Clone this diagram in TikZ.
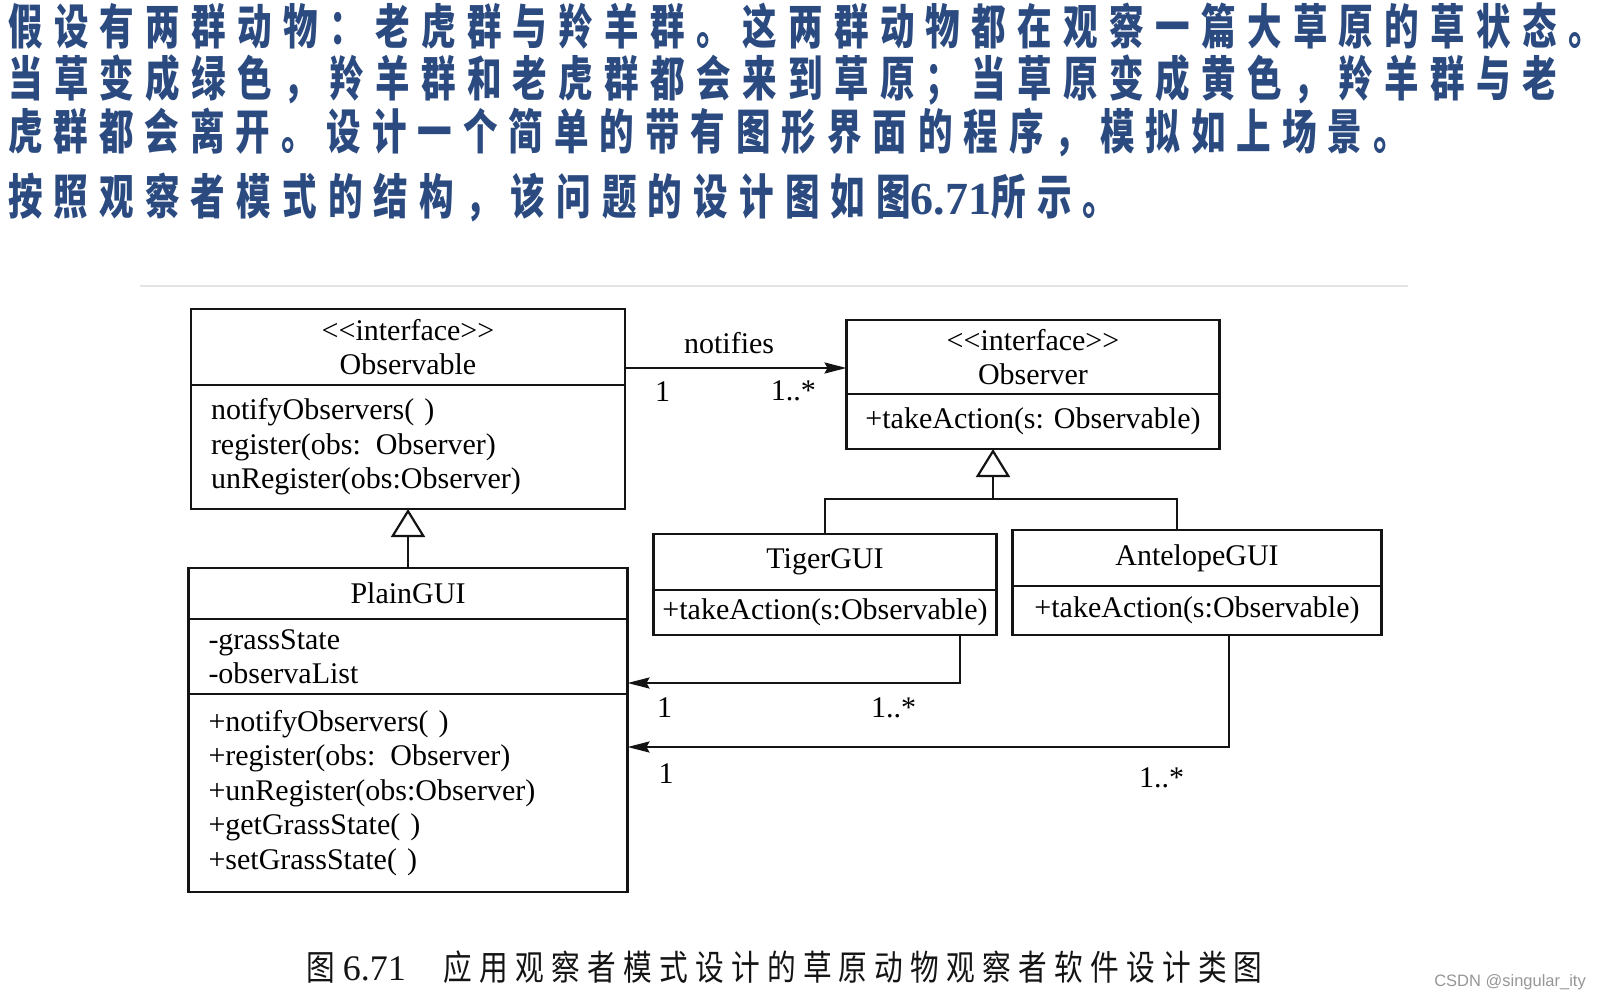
\documentclass[tikz,border=0pt]{standalone}
\usepackage{fontspec}
\setmainfont{Liberation Serif}
\newfontfamily\cjkhead[FakeStretch=0.72]{Noto Sans CJK SC}
\newfontfamily\cjkcap[FakeStretch=0.82, LetterSpace=20.6]{Noto Sans CJK SC}
\newfontfamily\markfont{Liberation Sans}
\usetikzlibrary{arrows.meta, positioning}
\definecolor{NoteBlue}{RGB}{42,74,128}
\definecolor{RuleGrey}{RGB}{228,228,228}
\definecolor{MarkGrey}{RGB}{150,150,150}
\definecolor{InkBlack}{RGB}{20,20,20}

\begin{document}
\begin{tikzpicture}[
    x=1pt,
    y=-1pt,
    font=\fontsize{30}{34.5}\selectfont,
    umlbox/.style={draw=InkBlack, line width=2.6pt, inner ysep=2pt, outer sep=0pt},
    headbox/.style 2 args={umlbox, minimum width=#1, minimum height=#2, align=center, inner xsep=6pt},
    listbox/.style 2 args={umlbox, text width=#1, minimum height=#2, align=left, inner xsep=20pt},
    link/.style={draw=InkBlack, line width=2.2pt},
    assoc/.style={link, -{Stealth[length=22pt, width=11pt, inset=3pt]}},
    inherit/.style={link, -{Triangle[open, length=28pt, width=34pt]}},
    mult/.style={inner sep=0pt, below=#1}
]
\useasboundingbox (0,0) rectangle (1600,1000);

% Intro text
\foreach \n/\y/\ls/\txt in {
  1/26/23.6/{假设有两群动物：老虎群与羚羊群。这两群动物都在观察一篇大草原的草状态。},
  2/80/23.6/{当草变成绿色，羚羊群和老虎群都会来到草原；当草原变成黄色，羚羊群与老},
  3/132/22.8/{虎群都会离开。设计一个简单的带有图形界面的程序，模拟如上场景。},
  4/197/23.2/{按照观察者模式的结构，该问题的设计图如图{\rmfamily\fontsize{46}{46}\selectfont 6.71}所示。}}{
  \node[anchor=west, inner sep=0pt, text=NoteBlue,
        font=\cjkhead\bfseries\fontsize{48}{48}\selectfont\addfontfeature{LetterSpace=\ls}]
    (intro\n) at (8,\y) {\txt};
}

% top rule
\draw[RuleGrey, line width=1.2pt] (140,286) -- (1408,286);

% Observable interface
\node[headbox={434pt}{76pt}, anchor=north] (obsvbl-head) at (408,309)
  {<{}<interface>{}>\\Observable};
\node[listbox={394pt}{124pt}, below=0pt of obsvbl-head] (obsvbl-ops)
  {notifyObservers( )\\register(obs: Observer)\\unRegister(obs:Observer)};

% Observer interface
\node[headbox={373pt}{74pt}, anchor=north] (obsvr-head) at (1033,320)
  {<{}<interface>{}>\\Observer};
\node[headbox={373pt}{55pt}, below=0pt of obsvr-head] (obsvr-ops)
  {+takeAction(s: Observable)};

% TigerGUI
\node[headbox={343pt}{56pt}, anchor=north] (tiger-head) at (825,534) {TigerGUI};
\node[headbox={343pt}{45pt}, below=0pt of tiger-head] (tiger-ops)
  {+takeAction(s:Observable)};

% AntelopeGUI
\node[headbox={369pt}{56pt}, anchor=north] (antel-head) at (1197,530) {AntelopeGUI};
\node[headbox={369pt}{49pt}, below=0pt of antel-head] (antel-ops)
  {+takeAction(s:Observable)};

% PlainGUI
\node[headbox={439pt}{51pt}, anchor=north] (plain-head) at (408,568) {PlainGUI};
\node[listbox={399pt}{75pt}, below=0pt of plain-head] (plain-attr)
  {-grassState\\-observaList};
\node[listbox={399pt}{198pt}, below=0pt of plain-attr] (plain-ops)
  {+notifyObservers( )\\+register(obs: Observer)\\+unRegister(obs:Observer)\\+getGrassState( )\\+setGrassState( )};

% notifies association
\coordinate (ntf) at ([yshift=-21pt]obsvbl-head.east);
\draw[assoc] (ntf) -- (ntf -| obsvr-head.west)
  node[pos=0.47, above=13pt, inner sep=0pt] (ntf-lab) {notifies}
  node[mult=13pt, pos=0.17] (ntf-one) {1}
  node[mult=12pt, pos=0.76] (ntf-many) {1..*};

% PlainGUI realises Observable
\draw[inherit] (plain-head.north) -- (obsvbl-ops.south);

% TigerGUI and AntelopeGUI realise Observer
\coordinate (gfork) at (993,499);
\draw[link] (tiger-head.north) |- (gfork) -| ([xshift=-20pt]antel-head.north);
\draw[inherit] (gfork) -- (gfork |- obsvr-ops.south);

% GUI associations back to PlainGUI
\draw[assoc] ([xshift=135pt]tiger-ops.south) |- ([yshift=11pt]plain-attr.south east)
  node[mult=14pt, pos=0.6] (tiger-many) {1..*}
  node[mult=14pt, pos=0.944] (tiger-one) {1};
\draw[assoc] ([xshift=32pt]antel-ops.south) |- ([yshift=-53pt]plain-ops.north east)
  node[mult=20pt, pos=0.556] (antel-many) {1..*}
  node[mult=16pt, pos=0.968] (antel-one) {1};

% figure caption
\node[anchor=west, inner sep=0pt, text=InkBlack, font=\cjkcap\fontsize{35}{35}\selectfont]
  (caption) at (306,967)
  {图\hspace{8pt}{\rmfamily\fontsize{36}{36}\selectfont 6.71}\hspace{38pt}应用观察者模式设计的草原动物观察者软件设计类图};

% watermark
\node[anchor=east, inner sep=0pt, text=MarkGrey, font=\markfont\fontsize{16.5}{16.5}\selectfont]
  (mark) at (1586,982) {CSDN @singular\_ity};

\end{tikzpicture}
\end{document}
